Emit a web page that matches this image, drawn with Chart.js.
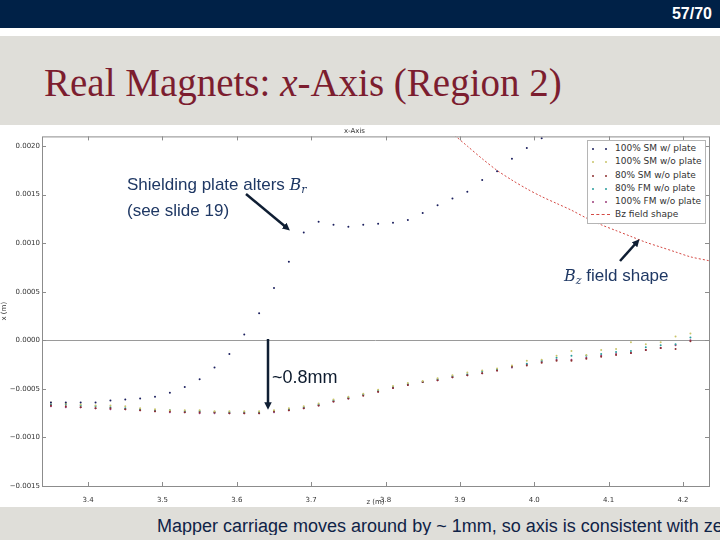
<!DOCTYPE html>
<html>
<head>
<meta charset="utf-8">
<script src="https://cdn.jsdelivr.net/npm/chart.js@4.4.0/dist/chart.umd.min.js"></script>
<style>
body { margin:0; width:720px; height:540px; background:#dfded9; position:relative; overflow:hidden; font-family:"Liberation Sans", Arial, sans-serif; }
.topbar { position:absolute; left:0; top:0; width:720px; height:28px; background:#002147; }
.strip { position:absolute; left:0; top:28px; width:720px; height:8px; background:#fff; }
.pagenum { position:absolute; right:8px; top:6px; font:bold 16px/16px "Liberation Sans Narrow", "Liberation Sans", sans-serif; color:#fff; }
.title { position:absolute; left:44px; top:63px; font:39px/39px "Liberation Serif", serif; color:#7c1d2f; white-space:nowrap; }
.plot { position:absolute; left:0; top:125px; width:720px; height:382px; background:#fff; }
.note { position:absolute; font-size:17px; color:#1f3864; white-space:nowrap; }
.note i { font-family:"DejaVu Serif", serif; font-size:16px; }
.note sub { font-family:"DejaVu Serif", serif; font-style:italic; font-size:11px; vertical-align:-3px; }
.footer { position:absolute; left:157px; top:517px; width:563px; overflow:hidden; white-space:nowrap; font:18px/18px "Liberation Sans", Arial, sans-serif; color:#0f2347; }
#legend { position:absolute; left:587px; top:140px; width:117px; padding:1px 0; background:#fff; border:1px solid #b5b5b5; font:9px/13.3px "DejaVu Sans", sans-serif; color:#333; }
#legend .row { position:relative; height:13.3px; padding-left:27px; white-space:nowrap; }
#legend .dot { position:absolute; top:6px; width:2px; height:2px; border-radius:1px; }
#legend .dash { position:absolute; top:6px; left:3px; width:19px; border-top:1px dashed; }
svg { position:absolute; left:0; top:0; }
</style>
</head>
<body>
<div class="topbar"></div>
<div class="strip"></div>
<div class="pagenum">57/70</div>
<div class="title">Real Magnets: <i>x</i>-Axis (Region 2)</div>

<div class="plot"><canvas id="chart"></canvas></div>
<div id="legend"></div>

<div class="note" style="left:127px; top:175px; line-height:20.6px;">Shielding plate alters <i>B</i><sub>r</sub><br>(see slide 19)</div>
<div class="note" style="left:564px; top:267px; line-height:17px;"><i>B</i><sub>z</sub> field shape</div>
<div class="note" style="left:272px; top:368px; line-height:18px; font-size:18px; color:#0d1b2e;">~0.8mm</div>
<div class="footer">Mapper carriage moves around by ~ 1mm, so axis is consistent with zero</div>

<svg width="720" height="540">
  <defs>
    <marker id="head" viewBox="0 0 10 10" refX="5" refY="5" markerWidth="3" markerHeight="3" orient="auto">
      <path d="M0,0 L10,5 L0,10 z" fill="#0f1e33"/>
    </marker>
  </defs>
  <g stroke="#0f1e33" stroke-width="2.5" marker-end="url(#head)">
    <line x1="246" y1="194" x2="287" y2="228"/>
    <line x1="620" y1="261" x2="637" y2="242"/>
    <line x1="268" y1="339" x2="268" y2="406"/>
  </g>
</svg>

<script>
// z positions of the mapper (m)
const zValues = [
  3.35,3.37,3.39,3.41,3.43,3.45,3.47,3.49,3.51,3.53,
  3.55,3.57,3.59,3.61,3.63,3.65,3.67,3.69,3.71,3.73,
  3.75,3.77,3.79,3.81,3.83,3.85,3.87,3.89,3.91,3.93,
  3.95,3.97,3.99,4.01,4.03,4.05,4.07,4.09,4.11,4.13,
  4.15,4.17,4.19,4.21
]

// x offsets (m)
const sm100Plate = [
  -0.00064,-0.00064,-0.00064,-0.00064,-0.00062,-0.00061,-0.00060,-0.00058,-0.00054,-0.00048,
  -0.00040,-0.00028,-0.00014,0.00006,0.00028,0.00054,0.00081,0.00111,0.00122,0.00119,
  0.00117,0.00119,0.00120,0.00121,0.00124,0.00131,0.00139,0.00146,0.00153,0.00165,
  0.00174,0.00187,0.00198,0.00208
]
const sm100NoPlate = [
  -0.00064,-0.00065,-0.00066,-0.00067,-0.00067,-0.00068,-0.00070,-0.00071,-0.00072,-0.00072,
  -0.00072,-0.00073,-0.00073,-0.00073,-0.00073,-0.00072,-0.00070,-0.00068,-0.00065,-0.00061,
  -0.00058,-0.00055,-0.00051,-0.00047,-0.00044,-0.00042,-0.00039,-0.00036,-0.00033,-0.00031,
  -0.00029,-0.00026,-0.00021,-0.00020,-0.00016,-0.00011,-0.00015,-0.00010,-0.00009,-0.00002,
  -0.00004,-0.00002,0.00004,0.00007
]
const sm80NoPlate = [
  -0.00067,-0.00068,-0.00069,-0.00070,-0.00070,-0.00071,-0.00072,-0.00073,-0.00073,-0.00074,
  -0.00074,-0.00074,-0.00075,-0.00075,-0.00075,-0.00073,-0.00072,-0.00070,-0.00067,-0.00063,
  -0.00060,-0.00057,-0.00053,-0.00049,-0.00046,-0.00043,-0.00041,-0.00038,-0.00036,-0.00034,
  -0.00031,-0.00027,-0.00026,-0.00023,-0.00021,-0.00021,-0.00019,-0.00017,-0.00015,-0.00013,
  -0.00010,-0.00008,-0.00009,-0.00001
]
const fm80NoPlate = [
  -0.00066,-0.00066,-0.00067,-0.00068,-0.00069,-0.00070,-0.00071,-0.00072,-0.00072,-0.00073,
  -0.00073,-0.00074,-0.00074,-0.00074,-0.00074,-0.00073,-0.00071,-0.00069,-0.00066,-0.00062,
  -0.00059,-0.00056,-0.00052,-0.00048,-0.00045,-0.00043,-0.00040,-0.00037,-0.00035,-0.00032,
  -0.00030,-0.00027,-0.00024,-0.00021,-0.00018,-0.00016,-0.00016,-0.00014,-0.00012,-0.00011,
  -0.00007,-0.00005,-0.00004,0.00003
]
const fm100NoPlate = [
  -0.00068,-0.00069,-0.00069,-0.00070,-0.00071,-0.00071,-0.00072,-0.00073,-0.00074,-0.00074,
  -0.00075,-0.00075,-0.00075,-0.00075,-0.00075,-0.00074,-0.00072,-0.00070,-0.00067,-0.00063,
  -0.00060,-0.00056,-0.00053,-0.00049,-0.00046,-0.00043,-0.00041,-0.00038,-0.00036,-0.00034,
  -0.00031,-0.00028,-0.00025,-0.00022,-0.00020,-0.00020,-0.00018,-0.00016,-0.00014,-0.00013,
  -0.00010,-0.00008,-0.00005,0.00000
]

// Bz field shape (scaled)
const bzZ = [3.85,3.87,3.89,3.91,3.93,3.95,3.97,3.99,4.01,4.03,4.05,4.07,4.09,4.11,4.13,4.15,4.17,4.19,4.21,4.235]
const bzValues = [0.00242,0.00226,0.00213,0.00200,0.00187,0.00175,0.00165,0.00156,0.00148,0.00141,
  0.00134,0.00126,0.00119,0.00113,0.00107,0.00101,0.00096,0.00091,0.00086,0.00082]

const seriesLabels = ['100% SM w/ plate','100% SM w/o plate','80% SM w/o plate','80% FM w/o plate','100% FM w/o plate']
const seriesColors = ['#1b1f5e','#c9c46a','#8c2f2f','#2a9d9d','#9b3d7a']
const series = [sm100Plate, sm100NoPlate, sm80NoPlate, fm80NoPlate, fm100NoPlate]

function toPoints(xs, ys) {
  return ys.map((v, i) => ({x: xs[i], y: v}))
}

const datasets = series.map((s, i) => ({
  label: seriesLabels[i],
  data: toPoints(zValues, s),
  backgroundColor: seriesColors[i],
  borderWidth: 0,
  pointRadius: 1,
  showLine: false
}))
datasets.push({
  label: 'Bz field shape',
  data: toPoints(bzZ, bzValues),
  borderColor: '#d44a45',
  borderWidth: 1,
  borderDash: [2, 2],
  pointRadius: 0,
  showLine: true,
  tension: 0.3
})

// matplotlib style frame with ticks pointing inwards
const axisFrame = {
  id: 'axisFrame',
  afterDraw(chart) {
    const {ctx, chartArea: a} = chart
    const x = chart.scales.x, y = chart.scales.y
    ctx.save()
    ctx.strokeStyle = '#8c8c8c'
    ctx.lineWidth = 1
    ctx.strokeRect(a.left + 0.5, a.top + 0.5, a.right - a.left, a.bottom - a.top)
    ctx.beginPath()
    x.ticks.forEach(t => {
      const px = Math.round(x.getPixelForValue(t.value)) + 0.5
      ctx.moveTo(px, a.bottom); ctx.lineTo(px, a.bottom - 4)
      ctx.moveTo(px, a.top); ctx.lineTo(px, a.top + 4)
    })
    y.ticks.forEach(t => {
      const py = Math.round(y.getPixelForValue(t.value)) + 0.5
      ctx.moveTo(a.left, py); ctx.lineTo(a.left + 4, py)
      ctx.moveTo(a.right, py); ctx.lineTo(a.right - 4, py)
    })
    ctx.stroke()
    ctx.restore()
  }
}

const tickFont = {family: 'DejaVu Sans', size: 7, weight: 'normal'}

const chart = new Chart(document.getElementById('chart'), {
  type: 'scatter',
  data: {datasets: datasets},
  options: {
    responsive: true,
    maintainAspectRatio: false,
    animation: false,
    layout: {padding: {top: 0, right: 11, left: 0, bottom: 0}},
    plugins: {
      legend: {display: false},
      tooltip: {enabled: false},
      title: {display: true, text: 'x-Axis', color: '#333', font: tickFont, padding: {top: 2, bottom: 1}}
    },
    scales: {
      x: {
        type: 'linear',
        min: 3.338,
        max: 4.235,
        afterFit: s => { s.height = 21 },
        border: {display: false},
        grid: {display: false},
        ticks: {stepSize: 0.1, includeBounds: false, color: '#333', font: tickFont, padding: 2,
          callback: v => v.toFixed(1)},
        title: {display: true, text: 'z (m)', color: '#333', font: tickFont, padding: {top: 0, bottom: 1}}
      },
      y: {
        min: -0.00150001,
        max: 0.0021,
        afterFit: s => { s.width = 42 },
        border: {display: false},
        grid: {drawTicks: false, color: c => Math.abs(c.tick.value) < 1e-9 ? '#9a9a9a' : 'rgba(0,0,0,0)'},
        ticks: {stepSize: 0.0005, includeBounds: false, color: '#333', font: tickFont, padding: 2,
          callback: v => (v < -1e-9 ? '\u2212' : '') + Math.abs(v).toFixed(4)},
        title: {display: true, text: 'x (m)', color: '#333', font: tickFont, padding: 0}
      }
    }
  },
  plugins: [axisFrame]
})

// legend box inside the plot, built from the datasets
const legend = document.getElementById('legend')
chart.data.datasets.forEach(ds => {
  const row = document.createElement('div')
  row.className = 'row'
  if (ds.showLine) {
    const d = document.createElement('span')
    d.className = 'dash'
    d.style.borderColor = ds.borderColor
    row.appendChild(d)
  } else {
    [4, 17].forEach(left => {
      const d = document.createElement('span')
      d.className = 'dot'
      d.style.left = left + 'px'
      d.style.background = ds.backgroundColor
      row.appendChild(d)
    })
  }
  row.appendChild(document.createTextNode(ds.label))
  legend.appendChild(row)
})
</script>
</body>
</html>
